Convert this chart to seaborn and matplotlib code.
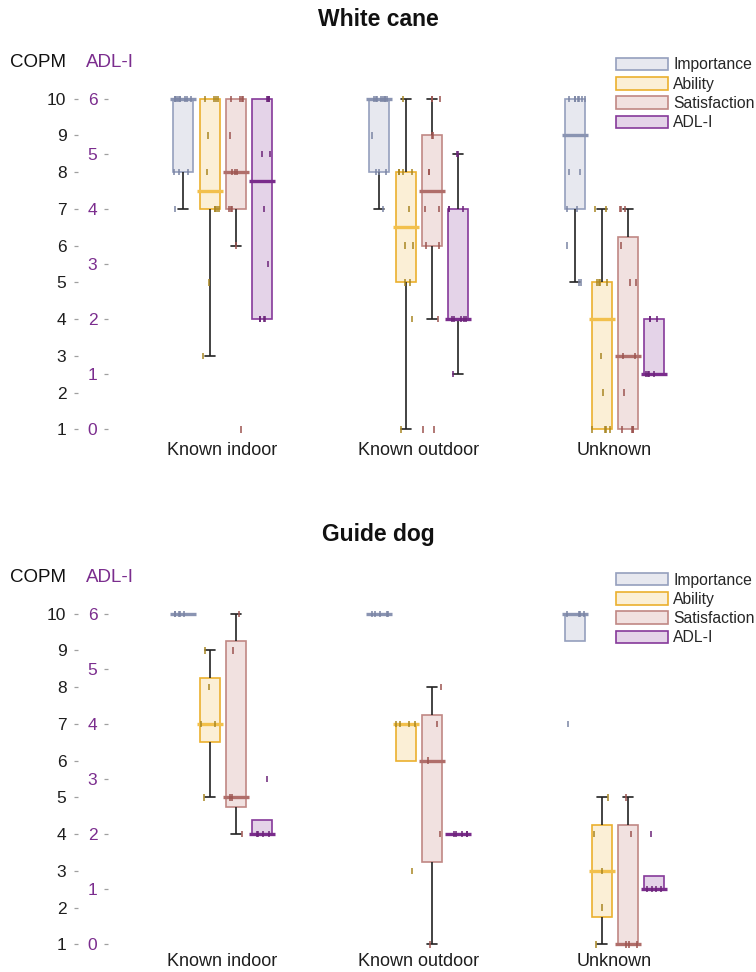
import numpy as np
import pandas as pd
import matplotlib
matplotlib.use('Agg')
import matplotlib.pyplot as plt
from matplotlib.patches import Patch
import seaborn as sns

# categories
places = ['Known indoor', 'Known outdoor', 'Unknown']
measures = ['Importance', 'Ability', 'Satisfaction', 'ADL-I']

# White cane: COPM scores (1-10) and ADL-I scores (0-6), one list per place
cane_importance = [[7, 8, 8, 8, 10, 10, 10, 10, 10, 10, 10, 10, 10],
                   [7, 8, 8, 8, 9, 10, 10, 10, 10, 10, 10, 10, 10],
                   [5, 5, 6, 7, 7, 8, 8, 10, 10, 10, 10, 10, 10, 10]]
cane_ability = [[3, 5, 7, 7, 7, 7, 8, 9, 10, 10, 10, 10],
                [1, 4, 5, 5, 6, 6, 7, 8, 8, 8, 8, 10],
                [1, 1, 1, 1, 2, 3, 5, 5, 5, 5, 7, 7]]
cane_satisfaction = [[1, 6, 7, 7, 7, 8, 8, 8, 9, 10, 10, 10, 10],
                     [1, 1, 4, 6, 6, 7, 7, 8, 8, 9, 9, 10, 10, 10],
                     [1, 1, 1, 1, 2, 3, 3, 5, 5, 6, 7, 7, 7]]
cane_adl = [[2, 2, 2, 2, 3, 4, 5, 5, 6, 6, 6, 6],
            [1, 2, 2, 2, 2, 2, 4, 4, 4, 5, 5],
            [1, 1, 1, 1, 2, 2, 2]]

# Guide dog
dog_importance = [[10, 10, 10, 10, 10],
                  [10, 10, 10, 10, 10],
                  [7, 10, 10, 10, 10]]
dog_ability = [[5, 7, 7, 8, 9],
               [3, 7, 7, 7, 7],
               [1, 2, 3, 4, 5]]
dog_satisfaction = [[4, 5, 5, 9, 10],
                    [1, 4, 6, 7, 8],
                    [1, 1, 1, 4, 5]]
dog_adl = [[2, 2, 2, 2, 3],
           [2, 2, 2, 2, 2],
           [1, 1, 1, 1, 2]]

copm_ticks = list(range(1, 11))
adl_ticks = list(range(0, 7))

# colours
fill_colors = {'Importance': '#e7e8ef', 'Ability': '#fbefd6',
               'Satisfaction': '#f1e1e0', 'ADL-I': '#e4d3e8'}
edge_colors = {'Importance': '#959fbd', 'Ability': '#ebb02e',
               'Satisfaction': '#c08884', 'ADL-I': '#86399a'}
median_colors = {'Importance': '#8a94b2', 'Ability': '#f2c04c',
                 'Satisfaction': '#b06e6a', 'ADL-I': '#7a2c8c'}
tick_colors = {'Importance': '#7b85a4', 'Ability': '#a88622',
               'Satisfaction': '#9c5450', 'ADL-I': '#6b2378'}
purple = '#7b2d8e'

# two empty padding levels keep the four boxes close together
hue_order = ['pad_l'] + measures + ['pad_r']
fill_palette = {'pad_l': 'white', 'pad_r': 'white', **fill_colors}
tick_palette = {'pad_l': 'white', 'pad_r': 'white', **tick_colors}


def adl_to_copm(a):
    return 1 + 1.5 * np.asarray(a, dtype=float)


def copm_to_adl(c):
    return (np.asarray(c, dtype=float) - 1) / 1.5


def long_table(importance, ability, satisfaction, adl):
    rows = []
    for name, groups in zip(measures, [importance, ability, satisfaction, adl]):
        for place, vals in zip(places, groups):
            if name == 'ADL-I':
                vals = adl_to_copm(vals)
            for v in vals:
                rows.append((place, name, float(v)))
    return pd.DataFrame(rows, columns=['place', 'measure', 'score'])


def box_stats(vals):
    # quartiles with the hazen rule, whiskers at 1.5 IQR
    v = np.asarray(vals, dtype=float)
    q1, med, q3 = np.percentile(v, [25, 50, 75], method='hazen')
    iqr = q3 - q1
    lo = v[v >= q1 - 1.5 * iqr].min()
    hi = v[v <= q3 + 1.5 * iqr].max()
    return dict(med=med, q1=q1, q3=q3, whislo=min(lo, q1), whishi=max(hi, q3),
                fliers=[], mean=v.mean())


def draw_panel(ax, df, label_pad):
    for m in measures:
        sub = df[df['measure'] == m]
        stats = [box_stats(sub.loc[sub['place'] == p, 'score']) for p in places]
        sns.boxplot(data=sub, x='place', y='score', hue='measure', order=places,
                    hue_order=hue_order, palette=fill_palette, saturation=1,
                    width=0.8, gap=0.236, dodge=True,
                    linecolor=edge_colors[m], linewidth=1.2,
                    whiskerprops=dict(color='#222222', linewidth=1.2),
                    capprops=dict(color='#222222', linewidth=1.2),
                    medianprops=dict(color=median_colors[m], linewidth=2.4),
                    legend=False, ax=ax, bxpstats=stats)

    # longer medians, hide whiskers of zero length
    for c in ax.containers:
        for med in getattr(c, 'medians', []):
            x0, x1 = med.get_xdata()[:2]
            mid, half = (x0 + x1) / 2, (x1 - x0) / 2 * 1.3
            med.set_xdata([mid - half, mid + half])
        for w, cap in zip(getattr(c, 'whiskers', []), getattr(c, 'caps', [])):
            y = w.get_ydata()
            if abs(y[1] - y[0]) < 1e-9:
                w.set_visible(False)
                cap.set_visible(False)

    sns.stripplot(data=df, x='place', y='score', hue='measure', order=places,
                  hue_order=hue_order, palette=tick_palette, dodge=True,
                  jitter=0.3, marker='|', size=4.6, linewidth=1.1,
                  legend=False, ax=ax, zorder=4)

    ax.set_xlim(-0.5, 2.5)
    ax.set_ylim(0.81, 10.46)
    ax.set_xlabel('')
    ax.set_ylabel('')
    for s in ax.spines.values():
        s.set_visible(False)
    ax.spines['left'].set_position(('axes', -0.080))
    ax.set_yticks(copm_ticks)
    ax.tick_params(axis='y', left=True, length=3, width=0.9, color='#a0a0a0',
                   pad=5, labelsize=12.5, labelcolor='#1e1e1e')
    ax.tick_params(axis='x', bottom=False, length=0, pad=label_pad, labelsize=13,
                   labelcolor='#1e1e1e')

    sec = ax.secondary_yaxis(-0.0274, functions=(copm_to_adl, adl_to_copm))
    sec.set_yticks(adl_ticks)
    sec.tick_params(axis='y', length=3, width=0.9, color='#a0a0a0', pad=5,
                    labelsize=12.5, labelcolor=purple)
    for s in sec.spines.values():
        s.set_visible(False)

    handles = [Patch(facecolor=fill_colors[m], edgecolor=edge_colors[m],
                     linewidth=1.2, label=m) for m in measures]
    return handles


sns.set_theme(style='white')
plt.rcParams['font.family'] = ['Liberation Sans', 'DejaVu Sans']

fig = plt.figure(figsize=(7.56, 9.72), dpi=100)
W, H = 756, 972
panels = [('White cane', long_table(cane_importance, cane_ability, cane_satisfaction, cane_adl), 0, 4),
          ('Guide dog', long_table(dog_importance, dog_ability, dog_satisfaction, dog_adl), 515, 1)]

np.random.seed(21)
for title, df, shift, label_pad in panels:
    ax = fig.add_axes([124.6 / W, 1 - (436.4 + shift) / H, 588 / W, 354.6 / H])
    handles = draw_panel(ax, df, label_pad)
    ax.legend(handles=handles, loc='upper left',
              bbox_to_anchor=(615.7 / W, 1 - (57.5 + shift) / H),
              bbox_transform=fig.transFigure, frameon=False, fontsize=11.3,
              handlelength=3.35, handleheight=0.85, handletextpad=0.32,
              labelspacing=0.27, borderpad=0, borderaxespad=0)
    fig.text(0.5, 1 - (19.5 + shift) / H, title, ha='center', va='center',
             fontsize=16.5, fontweight='bold', color='#111111')
    fig.text(10 / W, 1 - (62.5 + shift) / H, 'COPM', ha='left', va='center',
             fontsize=13.5, color='#111111')
    fig.text(86 / W, 1 - (62.5 + shift) / H, 'ADL-I', ha='left', va='center',
             fontsize=13.5, color=purple)

fig.savefig('out.png', dpi=100)
